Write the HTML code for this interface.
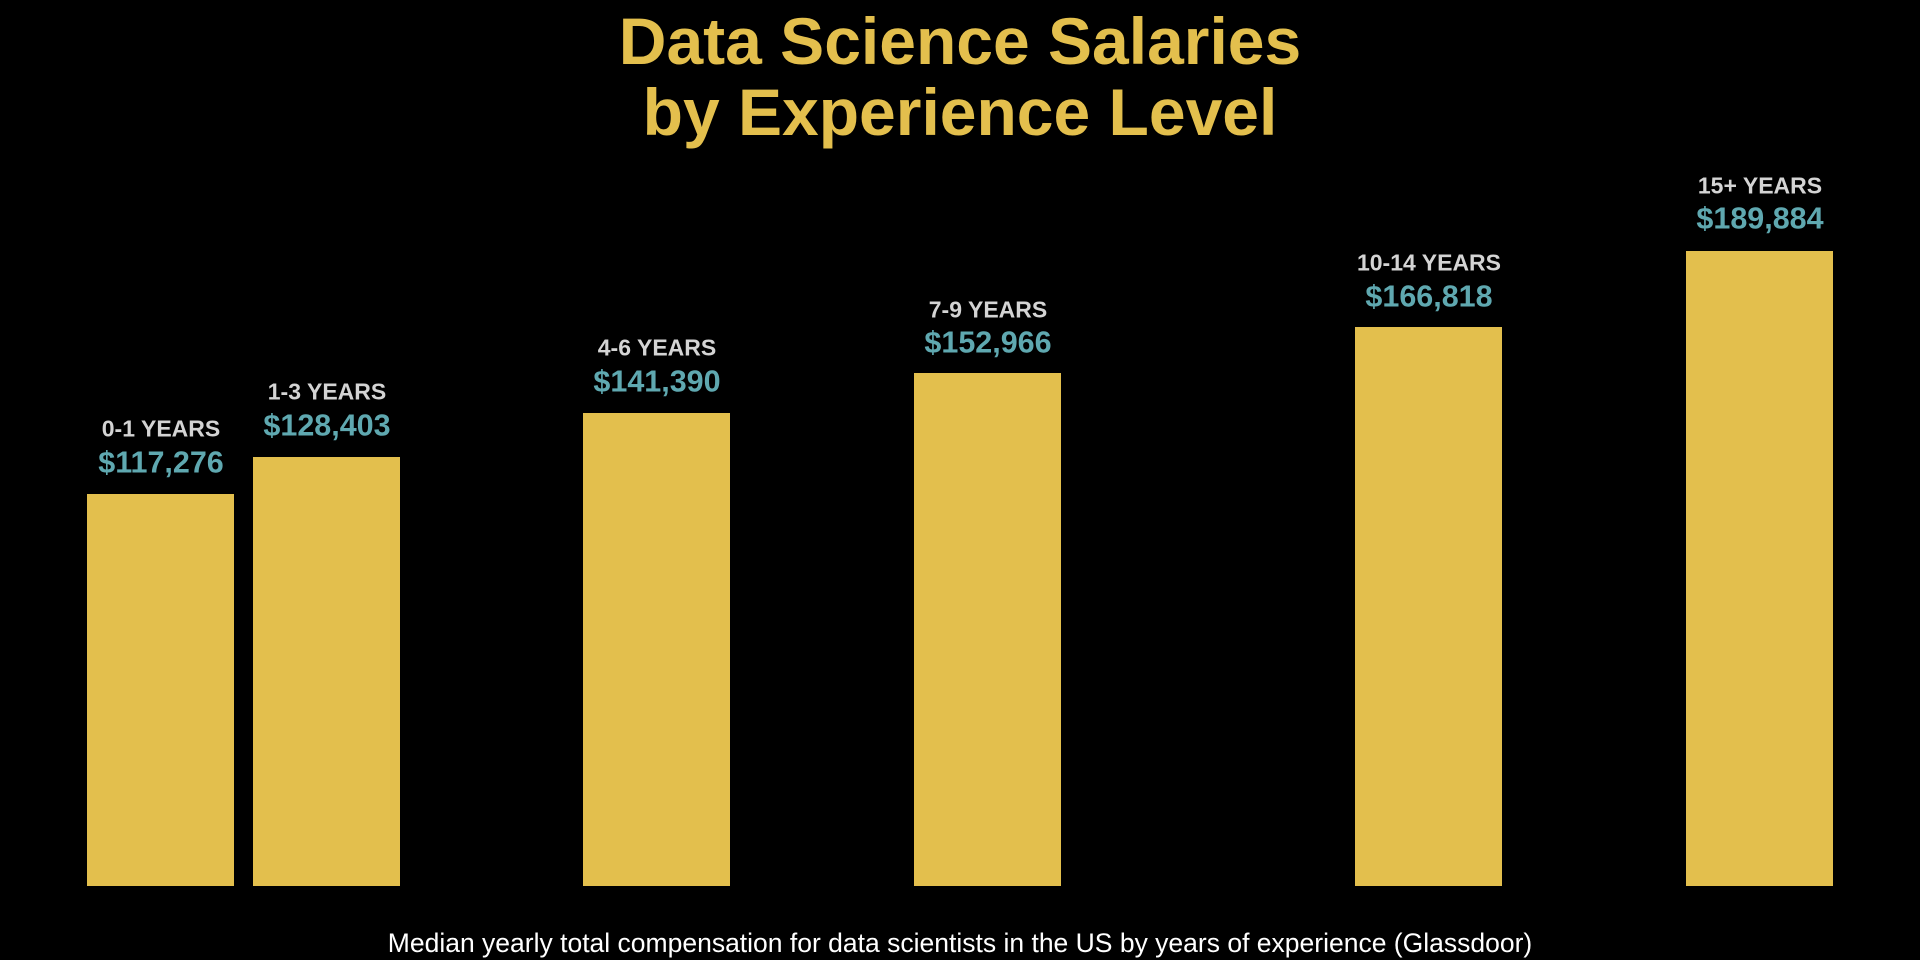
<!DOCTYPE html>
<html><head><style>
body{margin:0;width:1920px;height:960px;background:#000;position:relative;overflow:hidden;font-family:"Liberation Sans",Arial,sans-serif}
.t{position:absolute;left:0;width:1920px;text-align:center;color:#e3bf4d;font-weight:bold;font-size:66px;line-height:72px}
.b{position:absolute;background:#e3bf4d;width:147px;bottom:74px}
.y,.v{position:absolute;width:260px;text-align:center;font-weight:bold;transform:translateY(-50%)}
.y{color:#d4d4d4;font-size:23px}
.v{color:#5fa8b0;font-size:30.5px}
.s{position:absolute;left:0;width:1920px;text-align:center;color:#fff;font-size:26.5px;top:928px}
</style></head><body>
<div class="t" style="top:5px">Data Science Salaries</div>
<div class="t" style="top:76px">by Experience Level</div>
<div class="b" style="left:87px;top:494px"></div>
<div class="y" style="left:31px;top:429px">0-1 YEARS</div><div class="v" style="left:31px;top:463px">$117,276</div>
<div class="b" style="left:253px;top:457px"></div>
<div class="y" style="left:197px;top:392px">1-3 YEARS</div><div class="v" style="left:197px;top:426px">$128,403</div>
<div class="b" style="left:583px;top:413px"></div>
<div class="y" style="left:527px;top:348px">4-6 YEARS</div><div class="v" style="left:527px;top:382px">$141,390</div>
<div class="b" style="left:914px;top:373px"></div>
<div class="y" style="left:858px;top:310px">7-9 YEARS</div><div class="v" style="left:858px;top:343px">$152,966</div>
<div class="b" style="left:1355px;top:327px"></div>
<div class="y" style="left:1299px;top:263px">10-14 YEARS</div><div class="v" style="left:1299px;top:297px">$166,818</div>
<div class="b" style="left:1686px;top:251px"></div>
<div class="y" style="left:1630px;top:186px">15+ YEARS</div><div class="v" style="left:1630px;top:219px">$189,884</div>
<div class="s">Median yearly total compensation for data scientists in the US by years of experience (Glassdoor)</div>
</body></html>
